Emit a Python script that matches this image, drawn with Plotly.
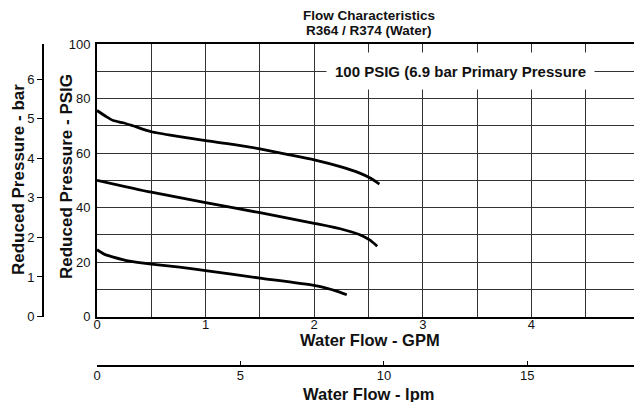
import plotly.graph_objects as go

# ---- data (GPM, PSIG) ----
top_gpm = [0.0, 0.08, 0.15, 0.24, 0.33, 0.5, 0.76, 1.0, 1.25, 1.5, 1.75, 2.0, 2.24, 2.42, 2.52, 2.6]
top_psig = [75.6, 73.5, 71.9, 71.1, 70.0, 67.8, 66.0, 64.5, 63.2, 61.5, 59.5, 57.5, 55.0, 52.6, 50.7, 48.6]

mid_gpm = [0.0, 0.5, 1.0, 1.5, 2.0, 2.24, 2.42, 2.51, 2.58]
mid_psig = [50.0, 45.6, 41.8, 38.1, 34.2, 32.2, 30.0, 28.1, 25.8]

low_gpm = [0.0, 0.07, 0.15, 0.3, 0.5, 0.76, 1.0, 1.5, 2.0, 2.11, 2.2, 2.3]
low_psig = [24.5, 22.8, 21.8, 20.3, 19.2, 18.1, 16.8, 14.1, 11.4, 10.4, 9.4, 8.0]

gpm_ticks = [0, 1, 2, 3, 4, 5]
psig_ticks = [0, 20, 40, 60, 80, 100]
bar_ticks = [0, 1, 2, 3, 4, 5, 6]
lpm_ticks = [0, 5, 10, 15]

PSI_PER_BAR = 14.5038
LPM_PER_GPM = 3.78541

# grid positions (every half GPM / every 10 PSIG), labelled only at the tick label values
x_grid = [i * 0.5 for i in range(2 * gpm_ticks[-1] + 1)]
x_text = [str(int(v)) if v in gpm_ticks else "" for v in x_grid]
y_grid = [i * 10 for i in range(psig_ticks[-1] // 10 + 1)]
y_text = [str(v) if v in psig_ticks else "" for v in y_grid]

OFF = 8  # page body margin in the browser
W, H = 634, 394
ML, MR, MT, MB = 0, 2, 36, 37
PW = W - ML - MR
PH = H - MT - MB
FONT = "Liberation Sans, Arial, Helvetica, sans-serif"


def px(xs):
    return (xs - OFF - ML) / PW


def py(ys):
    return (H - MB - (ys - OFF)) / PH


x0 = px(97)
ybot = py(316.5)
xbar = px(44)

fig = go.Figure()
for xs, ys in [(top_gpm, top_psig), (mid_gpm, mid_psig), (low_gpm, low_psig)]:
    fig.add_trace(go.Scatter(x=xs, y=ys, mode="lines",
                             line=dict(color="black", width=2.8, shape="spline", smoothing=0.6),
                             showlegend=False, hoverinfo="skip"))
# invisible traces so the secondary scale axes are drawn
fig.add_trace(go.Scatter(x=[v * LPM_PER_GPM for v in top_gpm], y=[0.5] * len(top_gpm),
                         xaxis="x2", yaxis="y3", mode="lines", opacity=0,
                         showlegend=False, hoverinfo="skip"))
fig.add_trace(go.Scatter(x=[0.5] * len(top_psig), y=[v / PSI_PER_BAR for v in top_psig],
                         xaxis="x3", yaxis="y2", mode="lines", opacity=0,
                         showlegend=False, hoverinfo="skip"))

grid = "#333333"
tf = dict(size=13, color="#111")
fig.update_layout(
    width=W, height=H,
    margin=dict(l=ML, r=MR, t=MT, b=MB),
    paper_bgcolor="white", plot_bgcolor="white",
    font=dict(family=FONT, color="#111", size=13),
    xaxis=dict(domain=[x0, 1], range=[0, 5], tickmode="array", tickvals=x_grid, ticktext=x_text,
               showgrid=True, gridcolor=grid, gridwidth=1, zeroline=False,
               showline=True, linecolor="black", linewidth=2, mirror=True,
               ticks="", tickfont=tf, ticklabelstandoff=-5, anchor="y", automargin=False),
    yaxis=dict(domain=[ybot, 1], range=[0, 100], tickmode="array", tickvals=y_grid, ticktext=y_text,
               showgrid=True, gridcolor=grid, gridwidth=1, zeroline=False,
               showline=True, linecolor="black", linewidth=2, mirror=True,
               ticks="outside", ticklen=2, tickcolor="white", tickfont=tf, anchor="x",
               automargin=False),
    xaxis2=dict(domain=[x0, 1], anchor="y3", side="bottom",
                range=[0, 5 * LPM_PER_GPM], tickvals=lpm_ticks, showgrid=False, zeroline=False,
                showline=True, linecolor="black", linewidth=2, ticks="inside", ticklen=4,
                tickcolor="black", tickwidth=1, tickfont=tf, ticklabelstandoff=-3,
                automargin=False),
    yaxis3=dict(domain=[0, 0.001], anchor="x2", range=[0, 1], visible=False,
                automargin=False),
    yaxis2=dict(domain=[ybot, 1], anchor="x3", side="left",
                range=[0, 100 / PSI_PER_BAR], tickvals=bar_ticks, showgrid=False, zeroline=False,
                showline=True, linecolor="black", linewidth=2, ticks="outside", ticklen=5,
                tickcolor="black", tickwidth=1, tickfont=tf, automargin=False),
    xaxis3=dict(domain=[xbar, xbar + 0.001], anchor="y2", range=[0, 1], visible=False,
                automargin=False),
)

ann = [
    dict(text="<b>Flow Characteristics</b>", x=px(369), y=py(16), font=dict(size=13.5)),
    dict(text="<b>R364 / R374 (Water)</b>", x=px(369), y=py(30.5), font=dict(size=13.5)),
    dict(text="<b>Water Flow - GPM</b>", x=px(370), y=py(339.5), font=dict(size=16.5)),
    dict(text="<b>Water Flow - lpm</b>", x=px(368), y=py(394), font=dict(size=16.5)),
    dict(text="<b>Reduced Pressure - PSIG</b>", x=px(66), y=py(177), textangle=-90,
         font=dict(size=17)),
    dict(text="<b>Reduced Pressure - bar</b>", x=px(18), y=py(180), textangle=-90,
         font=dict(size=17)),
]
for a in ann:
    fig.add_annotation(xref="paper", yref="paper", showarrow=False,
                       xanchor="center", yanchor="middle", **a)

fig.add_annotation(xref="x", yref="y", x=3.35, y=90, showarrow=False,
                   text="<b>100 PSIG (6.9 bar Primary Pressure</b>",
                   font=dict(size=15), bgcolor="white", width=265, height=34,
                   xanchor="center", yanchor="middle")

fig.write_html("out.html")
